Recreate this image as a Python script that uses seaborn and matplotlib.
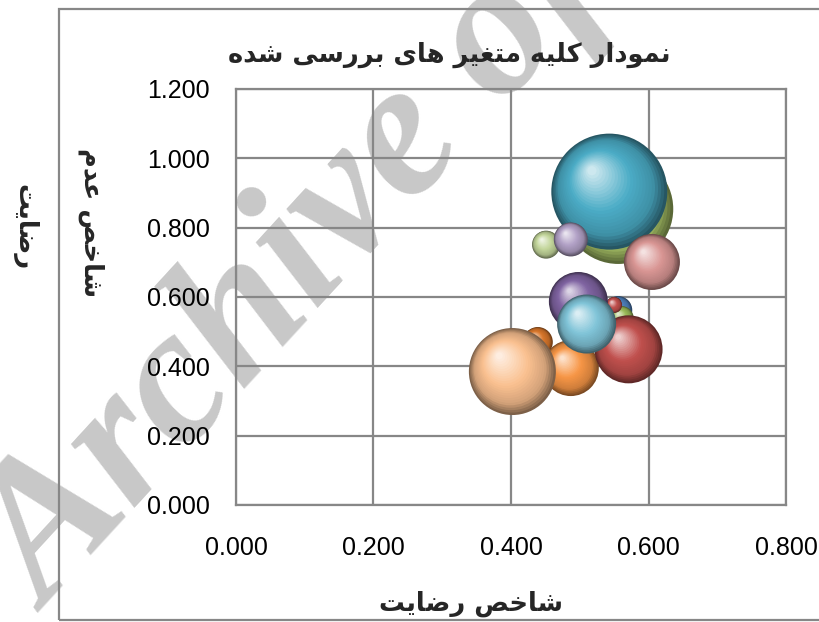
import numpy as np
import pandas as pd
import matplotlib
matplotlib.use('Agg')
import matplotlib.pyplot as plt
import seaborn as sns
from matplotlib.path import Path
from matplotlib.markers import MarkerStyle
from matplotlib.patches import Rectangle
from matplotlib.colors import to_rgb
from matplotlib.ticker import FormatStrFormatter, FixedLocator

# ---------------- texts ----------------
title_text = 'نمودار کلیه متغیر های بررسی شده'
xlabel_text = 'شاخص رضایت'
ylabel_line1 = 'شاخص عدم'
ylabel_line2 = 'رضایت'
watermark_text = 'Archive of SID'

# ---------------- data ----------------
bubble_names = ['olive', 'teal', 'lightgreen', 'lavender', 'pink', 'darkorange',
                'orange', 'peach', 'blue', 'green_s', 'red_s', 'red', 'purple', 'lightteal']
satisfaction = [0.556, 0.543, 0.451, 0.487, 0.605, 0.439,
                0.487, 0.402, 0.556, 0.561, 0.550, 0.571, 0.498, 0.510]
dissatisfaction = [0.854, 0.904, 0.751, 0.766, 0.701, 0.470,
                   0.395, 0.385, 0.562, 0.539, 0.577, 0.449, 0.587, 0.522]
bubble_size = [30.25, 33.64, 1.96, 2.89, 7.84, 2.25,
               7.84, 18.92, 1.96, 1.44, 0.64, 11.56, 8.70, 8.70]
bubble_colors = ['#B3CF6E', '#4BACC6', '#C3D69B', '#B3A2C7', '#D99694', '#D9772B',
                 '#F79646', '#FAC090', '#4F81BD', '#9BBB59', '#C0504D', '#C0504D', '#8064A2', '#80C4D8']
x_ticks = [0.0, 0.2, 0.4, 0.6, 0.8]
y_ticks = [0.0, 0.2, 0.4, 0.6, 0.8, 1.0, 1.2]

df = pd.DataFrame({'name': bubble_names, 'x': satisfaction,
                   'y': dissatisfaction, 's': bubble_size})

# ---------------- Persian shaping (presentation forms, visual order) ----------------
FORMS = {
    'ا': ('\uFE8D', '\uFE8E', None, None),
    'ب': ('\uFE8F', '\uFE90', '\uFE91', '\uFE92'),
    'ت': ('\uFE95', '\uFE96', '\uFE97', '\uFE98'),
    'خ': ('\uFEA5', '\uFEA6', '\uFEA7', '\uFEA8'),
    'د': ('\uFEA9', '\uFEAA', None, None),
    'ر': ('\uFEAD', '\uFEAE', None, None),
    'س': ('\uFEB1', '\uFEB2', '\uFEB3', '\uFEB4'),
    'ش': ('\uFEB5', '\uFEB6', '\uFEB7', '\uFEB8'),
    'ص': ('\uFEB9', '\uFEBA', '\uFEBB', '\uFEBC'),
    'ض': ('\uFEBD', '\uFEBE', '\uFEBF', '\uFEC0'),
    'ع': ('\uFEC9', '\uFECA', '\uFECB', '\uFECC'),
    'غ': ('\uFECD', '\uFECE', '\uFECF', '\uFED0'),
    'ل': ('\uFEDD', '\uFEDE', '\uFEDF', '\uFEE0'),
    'م': ('\uFEE1', '\uFEE2', '\uFEE3', '\uFEE4'),
    'ن': ('\uFEE5', '\uFEE6', '\uFEE7', '\uFEE8'),
    'ه': ('\uFEE9', '\uFEEA', '\uFEEB', '\uFEEC'),
    'و': ('\uFEED', '\uFEEE', None, None),
    'ی': ('\uFBFC', '\uFBFD', '\uFBFE', '\uFBFF'),
    'ک': ('\uFB8E', '\uFB8F', '\uFB90', '\uFB91'),
}


def shape(text):
    chars = list(text)
    out = []
    for i, c in enumerate(chars):
        if c not in FORMS:
            out.append(c)
            continue
        prev = chars[i - 1] if i > 0 else None
        nxt = chars[i + 1] if i + 1 < len(chars) else None
        iso, fin, ini, med = FORMS[c]
        jp = prev in FORMS and FORMS[prev][2] is not None
        jn = nxt in FORMS and ini is not None
        if jp and jn:
            out.append(med)
        elif jp:
            out.append(fin)
        elif jn:
            out.append(ini)
        else:
            out.append(iso)
    return ''.join(reversed(out))


# ---------------- figure ----------------
sns.set_theme(style='white')
plt.rcParams['font.family'] = ['Liberation Sans', 'DejaVu Sans']
W, H = 820, 622
fig = plt.figure(figsize=(W / 100, H / 100), dpi=100)
ax = fig.add_axes([236 / W, 117 / H, 550 / W, 416 / H])
ax.set_facecolor('none')

GRID = '#878787'
ax.set_xlim(0, 0.8)
ax.set_ylim(0, 1.2)
ax.xaxis.set_major_locator(FixedLocator(x_ticks))
ax.yaxis.set_major_locator(FixedLocator(y_ticks))
ax.xaxis.set_major_formatter(FormatStrFormatter('%.3f'))
ax.yaxis.set_major_formatter(FormatStrFormatter('%.3f'))
ax.grid(True, color=GRID, lw=1.6)
ax.set_axisbelow(True)
for sp in ax.spines.values():
    sp.set_color(GRID)
    sp.set_linewidth(1.6)
ax.tick_params(axis='both', length=0, labelsize=18, labelcolor='black')
ax.tick_params(axis='y', pad=19)
ax.tick_params(axis='x', pad=22)


def circle_marker(cx, cy, rad):
    c = Path.circle((cx, cy), rad)
    verts = np.vstack([[[1.0, 1.0]], c.vertices])
    codes = np.concatenate([[Path.MOVETO], c.codes])
    return MarkerStyle(Path(verts, codes))


def shade(base, t):
    dark = base * 0.50
    mid = base * 0.84
    light = base + (1 - base) * 0.72
    keys = [0.0, 0.18, 0.50, 1.0]
    cols = [dark, mid, base, light]
    return tuple(float(np.interp(t, keys, [c[j] for c in cols])) for j in range(3))


VMAX = max(bubble_size)
SMAX = 207.36 * VMAX  # area scale (pt^2 per unit size)
N = 24
markers = []
for k in range(N):
    t = k / (N - 1)
    f = 1 - 0.92 * t
    markers.append((t, circle_marker(-0.30 * t, 0.36 * t, f)))

for i in range(len(df)):
    row = df.iloc[[i]]
    base = np.array(to_rgb(bubble_colors[i]))
    for t, mk in markers:
        sns.scatterplot(data=row, x='x', y='y', size='s', sizes=(0, SMAX),
                        size_norm=(0, VMAX), marker=mk, color=shade(base, t),
                        linewidth=0, edgecolor='none', legend=False, ax=ax,
                        zorder=3, clip_on=False)
ax.set_xlabel('')
ax.set_ylabel('')

# ---------------- texts ----------------
PFONT = ['DejaVu Sans']
fig.text(449 / W, 1 - 55 / H, shape(title_text), ha='center', va='center',
         fontsize=18.5, fontweight='bold', family=PFONT)
fig.text(471 / W, 1 - 604 / H, shape(xlabel_text), ha='center', va='center',
         fontsize=18.5, fontweight='bold', family=PFONT)
fig.text(91 / W, 1 - 223 / H, shape(ylabel_line1), ha='center', va='center',
         rotation=270, fontsize=18.5, fontweight='bold', family=PFONT)
fig.text(24 / W, 1 - 227 / H, shape(ylabel_line2), ha='center', va='center',
         rotation=270, fontsize=18.5, fontweight='bold', family=PFONT)

# watermark
fig.text(48 / W, 1 - 614 / H, watermark_text, rotation=47.5, rotation_mode='anchor',
         ha='left', va='baseline', fontsize=140, family=['Liberation Serif'],
         fontweight='bold', fontstyle='italic', color='#c8c8c8', zorder=-5)

# chart border
fig.patches.append(Rectangle((59 / W, 2 / H), 2.0, 611 / H, transform=fig.transFigure,
                             fill=False, edgecolor=GRID, lw=1.6, zorder=-4))

fig.savefig('out.png', dpi=100)
